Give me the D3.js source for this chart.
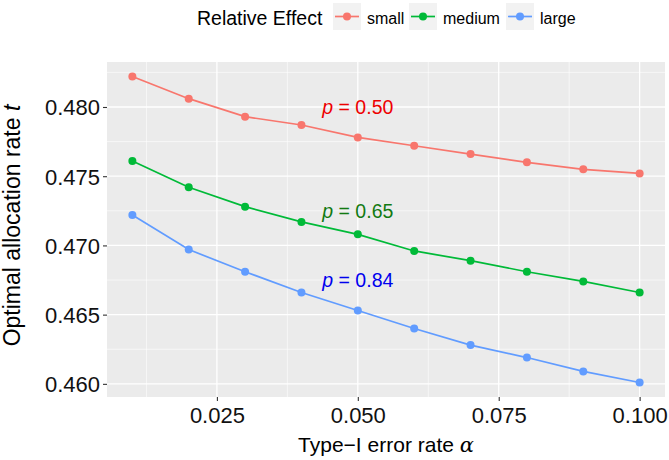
<!DOCTYPE html>
<html><head><meta charset="utf-8">
<script src="https://cdn.jsdelivr.net/npm/d3@7"></script>
<style>body{margin:0;background:#fff}svg{display:block;font-family:"Liberation Sans",Arial,Helvetica,sans-serif}</style>
</head><body>
<script>
const alphas = [0.01,0.02,0.03,0.04,0.05,0.06,0.07,0.08,0.09,0.10];
const seriesNames = ["small","medium","large"];
const small  = [0.4822,0.4806,0.4793,0.4787,0.4778,0.4772,0.4766,0.4760,0.4755,0.4752];
const medium = [0.4761,0.4742,0.4728,0.4717,0.4708,0.4696,0.4689,0.4681,0.4674,0.4666];
const large  = [0.4722,0.4697,0.4681,0.4666,0.4653,0.4640,0.4628,0.4619,0.4609,0.4601];
const colors = ["#F8766D","#00BA38","#619CFF"];
const xTicks = [0.025,0.050,0.075,0.100];
const yTicks = [0.460,0.465,0.470,0.475,0.480];
const annoLabels = ["0.50","0.65","0.84"];
const annoY = [0.4800,0.4725,0.4675];
const annoColors = ["#EE0000","#127A12","#0000EE"];

const W=669,H=460;
const svg=d3.select("body").append("svg").attr("width",W).attr("height",H);
const L=107,R=665,T=62,B=397;
const x=d3.scaleLinear().domain([0.0055,0.1045]).range([L,R]);
const y=d3.scaleLinear().domain([0.45905,0.48325]).range([B,T]);

svg.append("rect").attr("x",L).attr("y",T).attr("width",R-L).attr("height",B-T).attr("fill","#EBEBEB");
const xMinor=[0.0125,0.0375,0.0625,0.0875];
const yMinor=[0.4625,0.4675,0.4725,0.4775,0.4825];
const g=svg.append("g");
g.selectAll(".xm").data(xMinor).join("line").attr("x1",d=>x(d)).attr("x2",d=>x(d)).attr("y1",T).attr("y2",B).attr("stroke","#fff").attr("stroke-width",0.6);
g.selectAll(".ym").data(yMinor).join("line").attr("y1",d=>y(d)).attr("y2",d=>y(d)).attr("x1",L).attr("x2",R).attr("stroke","#fff").attr("stroke-width",0.6);
g.selectAll(".xM").data(xTicks).join("line").attr("x1",d=>x(d)).attr("x2",d=>x(d)).attr("y1",T).attr("y2",B).attr("stroke","#fff").attr("stroke-width",1.3);
g.selectAll(".yM").data(yTicks).join("line").attr("y1",d=>y(d)).attr("y2",d=>y(d)).attr("x1",L).attr("x2",R).attr("stroke","#fff").attr("stroke-width",1.3);

// axes
const xAxis=d3.axisBottom(x).tickValues(xTicks).tickFormat(d3.format(".3f")).tickSize(4).tickPadding(6);
const yAxis=d3.axisLeft(y).tickValues(yTicks).tickFormat(d3.format(".3f")).tickSize(4).tickPadding(3);
const ax=svg.append("g").attr("transform",`translate(0,${B})`).call(xAxis);
const ay=svg.append("g").attr("transform",`translate(${L},0)`).call(yAxis);
[ax,ay].forEach(a=>{a.select(".domain").remove();a.selectAll(".tick line").attr("stroke","#333").attr("stroke-width",1.1);
 a.selectAll(".tick text").attr("fill","#111").style("font-size","22px").style("font-family","'Liberation Sans',Arial,sans-serif");});
ay.selectAll(".tick text").attr("dy","0.36em");

// series
const all=[small,medium,large];
const line=d3.line().x((d,i)=>x(alphas[i])).y(d=>y(d));
all.forEach((s,k)=>{
  svg.append("path").datum(s).attr("d",line).attr("fill","none").attr("stroke",colors[k]).attr("stroke-width",1.7);
  svg.append("g").selectAll("circle").data(s).join("circle").attr("cx",(d,i)=>x(alphas[i])).attr("cy",d=>y(d)).attr("r",4).attr("fill",colors[k]);
});

// annotations
annoLabels.forEach((t,k)=>{
  const tx=svg.append("text").attr("x",x(0.05)).attr("y",y(annoY[k])).attr("dy","0.35em").attr("text-anchor","middle")
    .attr("fill",annoColors[k]).style("font-size","19.5px");
  tx.append("tspan").attr("font-style","italic").text("p");
  tx.append("tspan").text(" = "+t);
});

// axis titles
const xt=svg.append("text").attr("x",(L+R)/2).attr("y",452).attr("text-anchor","middle").attr("fill","#000").style("font-size","21px");
xt.append("tspan").text("Type\u2212I error rate ");
xt.append("tspan").attr("font-style","italic").attr("font-family","'DejaVu Serif',serif").text("\u03B1");
const yt=svg.append("text").attr("transform",`translate(20,${(T+B)/2-4}) rotate(-90)`).attr("text-anchor","middle").attr("fill","#000").style("font-size","23px");
yt.append("tspan").text("Optimal allocation rate ");
yt.append("tspan").attr("font-style","italic").text("t");

// legend
const lg=svg.append("g");
lg.append("text").attr("x",197).attr("y",25).style("font-size","19.5px").attr("fill","#000").text("Relative Effect");
const keyX=[333,409,506], labX=[367,443,540];
seriesNames.forEach((n,k)=>{
  lg.append("rect").attr("x",keyX[k]).attr("y",3).attr("width",28).attr("height",27).attr("fill","#F2F2F2");
  lg.append("line").attr("x1",keyX[k]+2).attr("x2",keyX[k]+26).attr("y1",16.5).attr("y2",16.5).attr("stroke",colors[k]).attr("stroke-width",1.7);
  lg.append("circle").attr("cx",keyX[k]+14).attr("cy",16.5).attr("r",4).attr("fill",colors[k]);
  lg.append("text").attr("x",labX[k]).attr("y",24).style("font-size","16px").attr("fill","#000").text(n);
});
</script>
</body></html>
